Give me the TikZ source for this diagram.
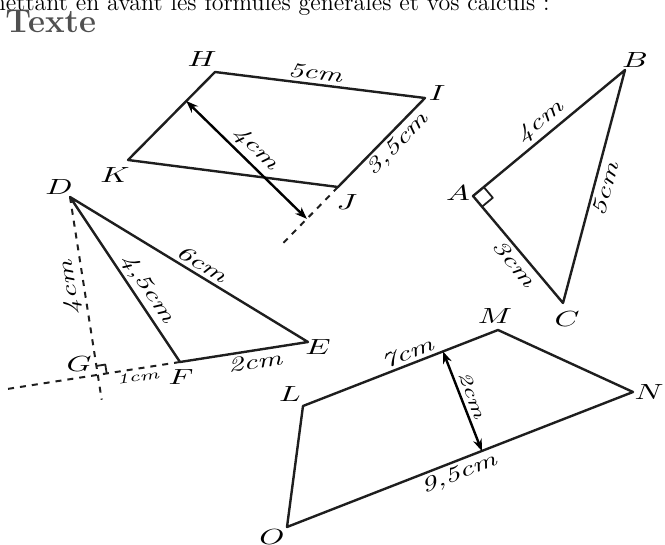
\documentclass[tikz,border=0pt]{standalone}
\usepackage{tikz}
\usetikzlibrary{arrows.meta, calc}
\definecolor{trait}{RGB}{30, 30, 30}
\definecolor{titregris}{RGB}{80, 80, 80}
\newcommand{\sommet}[1]{\scalebox{1.45}[1]{$#1$}}
\newcommand{\mesure}[1]{\scalebox{1.45}[1]{\itshape #1}}

\begin{document}
\begin{tikzpicture}[x=0.5pt, y=-0.5pt,
        figure/.style={draw=trait, line width=1.2pt, line join=round},
        pointille/.style={draw=trait, line width=1pt, dashed},
        fleche/.style={{Stealth[length=6pt,width=4.5pt]}-{Stealth[length=6pt,width=4.5pt]}, draw=black, line width=1.2pt},
        lettre/.style={inner sep=1pt, font=\fontsize{10.5}{12}\selectfont},
        longueur/.style={sloped, font=\fontsize{10.5}{12}\selectfont, inner sep=2pt},
        petit/.style={sloped, font=\scriptsize, inner sep=1.5pt}
    ]
        \useasboundingbox (0,0) rectangle (665,545);
        \clip (0,0) rectangle (665,545);

        % Consigne
        \node[anchor=base west, inner sep=0pt, font=\large] (consigne) at (-14,11) {mettant en avant les formules générales et vos calculs :};
        \node[anchor=base west, inner sep=0pt, font=\fontsize{16.5}{19}\selectfont\bfseries, text=titregris] (titre) at (5,33) {Texte};

        % Parallelogramme HIJK
        \coordinate (H) at (215,72);
        \coordinate (I) at (425,98);
        \coordinate (J) at (338,187);
        \coordinate (K) at (128,160);
        \coordinate (P1) at ($(H)!0.33!(K)$);
        \coordinate (P2) at ($(I)!(P1)!(J)$);
        \coordinate (P3) at ($(J)!1.85!(P2)$);
        \draw[figure] (H) -- (I) -- (J) -- (K) -- cycle;
        \draw[pointille] (J) -- (P3);
        \draw[fleche] (P1) -- node[longueur, above, pos=0.49] (mHK) {\mesure{4cm}} (P2);
        \path (H) -- node[longueur, above, pos=0.47] (mHI) {\mesure{5cm}} (I);
        \path (J) -- node[longueur, below, pos=0.58] (mIJ) {\mesure{3,5cm}} (I);
        \node[lettre] (lH) at (202,59) {\sommet{H}};
        \node[lettre] (lI) at (437,93) {\sommet{I}};
        \node[lettre] (lJ) at (347,202) {\sommet{J}};
        \node[lettre] (lK) at (115,175) {\sommet{K}};

        % Triangle rectangle ABC
        \coordinate (A) at (473,196);
        \coordinate (B) at (625,70);
        \coordinate (C) at (563,303);
        \coordinate (a1) at ($(A)!7pt!(B)$);
        \coordinate (a2) at ($(A)!7pt!(C)$);
        \draw[figure] (A) -- (B) -- (C) -- cycle;
        \draw[figure, line width=0.9pt] (a1) -- ($(a1)+(a2)-(A)$) -- (a2);
        \path (A) -- node[longueur, above, pos=0.5] (mAB) {\mesure{4cm}} (B);
        \path (C) -- node[longueur, below, pos=0.5] (mBC) {\mesure{5cm}} (B);
        \path (A) -- node[longueur, below, pos=0.56] (mAC) {\mesure{3cm}} (C);
        \node[lettre] (lA) at (458,193) {\sommet{A}};
        \node[lettre] (lB) at (635,60) {\sommet{B}};
        \node[lettre] (lC) at (567,319) {\sommet{C}};

        % Triangle DEF et hauteur DG
        \coordinate (D) at (70,197);
        \coordinate (E) at (308,342);
        \coordinate (F) at (180,362);
        \coordinate (G) at ($(F)!(D)!(E)$);
        \coordinate (g1) at ($(G)!4.5pt!(F)$);
        \coordinate (g2) at ($(G)!4.5pt!(D)$);
        \coordinate (g3) at ($(F)!2.1!(G)$);
        \coordinate (d3) at ($(D)!1.14!(G)$);
        \draw[figure] (D) -- (E) -- (F) -- cycle;
        \draw[pointille] (F) -- (g3);
        \draw[pointille] (D) -- (d3);
        \draw[figure, line width=0.9pt] (g1) -- ($(g1)+(g2)-(G)$) -- (g2);
        \path (D) -- node[longueur, above, pos=0.53] (mDE) {\mesure{6cm}} (E);
        \path (D) -- node[longueur, above, pos=0.6] (mDF) {\mesure{4,5cm}} (F);
        \path (F) -- node[longueur, below, pos=0.57] (mFE) {\mesure{2cm}} (E);
        \path (G) -- node[petit, below, pos=0.47] (mGF) {\mesure{1cm}} (F);
        \path (G) -- node[longueur, above, pos=0.5, allow upside down] (mDG) {\mesure{4cm}} (D);
        \node[lettre] (lD) at (59,187) {\sommet{D}};
        \node[lettre] (lE) at (318,347) {\sommet{E}};
        \node[lettre] (lF) at (181,377) {\sommet{F}};
        \node[lettre] (lG) at (79,364) {\sommet{G}};

        % Trapeze LMNO
        \coordinate (L) at (303,406);
        \coordinate (M) at (498,330);
        \coordinate (N) at (633,392);
        \coordinate (O) at (287,527);
        \coordinate (Q1) at ($(L)!0.718!(M)$);
        \coordinate (Q2) at ($(O)!(Q1)!(N)$);
        \draw[figure] (L) -- (M) -- (N) -- (O) -- cycle;
        \draw[fleche] (Q1) -- node[longueur, above, pos=0.48, font=\small] (mQ) {\mesure{2cm}} (Q2);
        \path (L) -- node[longueur, above, pos=0.555] (mLM) {\mesure{7cm}} (M);
        \path (O) -- node[longueur, below, pos=0.483] (mON) {\mesure{9,5cm}} (N);
        \node[lettre] (lL) at (290,394) {\sommet{L}};
        \node[lettre] (lM) at (495,316) {\sommet{M}};
        \node[lettre] (lN) at (649,392) {\sommet{N}};
        \node[lettre] (lO) at (272,537) {\sommet{O}};
    \end{tikzpicture}
\end{document}
